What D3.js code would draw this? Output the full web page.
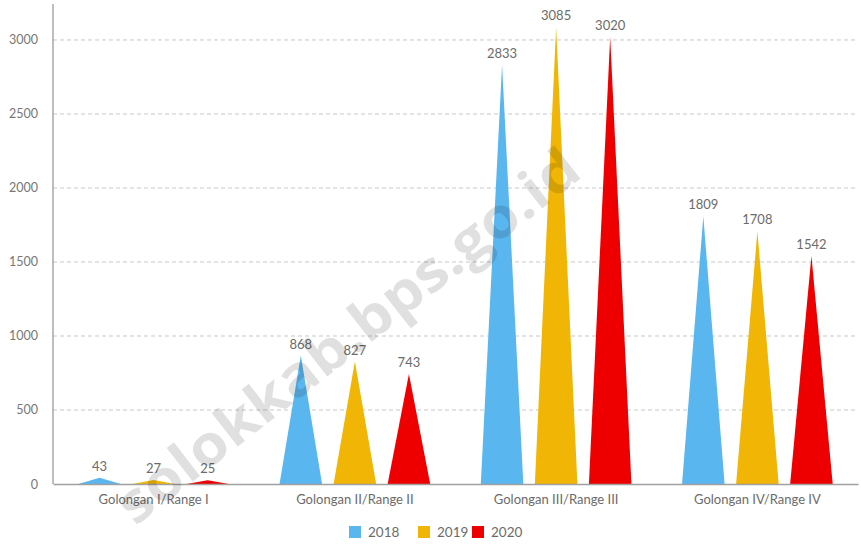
<!DOCTYPE html>
<html>
<head>
<meta charset="utf-8">
<script src="https://cdn.jsdelivr.net/npm/d3@7"></script>
<style>
  html, body { margin: 0; padding: 0; background: #fff; }
  svg { display: block; font-family: Lato, "Open Sans", sans-serif; }
</style>
</head>
<body>
<svg id="chart" width="861" height="544"></svg>
<script>
const categories = ["Golongan I/Range I", "Golongan II/Range II", "Golongan III/Range III", "Golongan IV/Range IV"];
const seriesNames = ["2018", "2019", "2020"];
const values2018 = [43, 868, 2833, 1809];
const values2019 = [27, 827, 3085, 1708];
const values2020 = [25, 743, 3020, 1542];
const yTicks = [0, 500, 1000, 1500, 2000, 2500, 3000];
const colors = ["#5ab6ef", "#f0b505", "#ee0000"];
const watermark = "solokkab.bps.go.id";

const seriesValues = [values2018, values2019, values2020];

const svg = d3.select("#chart");
const mLeft = 53, mRight = 858, mTop = 4, mBottom = 484;

const x0 = d3.scaleBand().domain(categories).range([mLeft, mRight]).padding(0);
const x1 = d3.scaleBand().domain(seriesNames).range([0, x0.bandwidth()])
  .paddingInner(0.213).paddingOuter(0.468);
const y = d3.scaleLinear().domain([0, 3243]).range([mBottom, mTop]);
const color = d3.scaleOrdinal().domain(seriesNames).range(colors);

// gridlines
svg.append("g")
  .selectAll("line")
  .data(yTicks.filter(d => d > 0))
  .join("line")
  .attr("x1", mLeft).attr("x2", mRight)
  .attr("y1", d => y(d)).attr("y2", d => y(d))
  .attr("stroke", "#c8c8c8")
  .attr("stroke-width", 1)
  .attr("stroke-dasharray", "4,3");

// y axis labels
const yAxis = d3.axisLeft(y).tickValues(yTicks).tickSize(0).tickPadding(15).tickFormat(d3.format("d"));
const gy = svg.append("g").attr("transform", `translate(${mLeft},0)`).call(yAxis);
gy.select(".domain").remove();
gy.selectAll("text").attr("fill", "#777").attr("font-size", "12.5px").attr("font-family", "Lato, sans-serif");

// triangles
const data = [];
categories.forEach((c, i) => {
  seriesNames.forEach((s, j) => {
    data.push({ cat: c, series: s, value: seriesValues[j][i] });
  });
});

const g = svg.append("g");
g.selectAll("path.tri")
  .data(data)
  .join("path")
  .attr("class", "tri")
  .attr("fill", d => color(d.series))
  .attr("d", d => {
    const x = x0(d.cat) + x1(d.series);
    const w = x1.bandwidth();
    return `M${x},${y(0)}L${x + w / 2},${y(d.value)}L${x + w},${y(0)}Z`;
  });

g.selectAll("text.val")
  .data(data)
  .join("text")
  .attr("class", "val")
  .attr("x", d => x0(d.cat) + x1(d.series) + x1.bandwidth() / 2)
  .attr("y", d => y(d.value) - 7)
  .attr("text-anchor", "middle")
  .attr("fill", "#6b6b6b")
  .attr("font-size", "13px")
  .text(d => d.value);

// axes lines
svg.append("line").attr("x1", mLeft).attr("x2", mLeft).attr("y1", mTop).attr("y2", mBottom)
  .attr("stroke", "#a8a8a8").attr("stroke-width", 1.5);
const xAxis = d3.axisBottom(x0).tickSize(0).tickPadding(11);
const gx = svg.append("g").attr("transform", `translate(0,${mBottom})`).call(xAxis);
gx.select(".domain").attr("stroke", "#a0a0a0").attr("stroke-width", 1.5);
gx.selectAll("text").attr("fill", "#6b6b6b").attr("font-size", "13px").attr("font-family", "Lato, sans-serif");

// legend
const legendX = [349, 418, 472];
const lg = svg.append("g");
seriesNames.forEach((s, i) => {
  lg.append("rect").attr("x", legendX[i]).attr("y", 526).attr("width", 12).attr("height", 12)
    .attr("fill", color(s));
  lg.append("text").attr("x", legendX[i] + 19).attr("y", 537)
    .attr("fill", "#6b6b6b").attr("font-size", "13.5px").text(s);
});

// watermark
svg.append("text")
  .attr("transform", "translate(346,334) rotate(-38)")
  .attr("text-anchor", "middle")
  .attr("dominant-baseline", "central")
  .attr("font-family", "'Open Sans', sans-serif")
  .attr("font-weight", "bold")
  .attr("font-size", "56px")
  .attr("textLength", 570)
  .attr("lengthAdjust", "spacingAndGlyphs")
  .attr("fill", "#000")
  .attr("fill-opacity", 0.12)
  .text(watermark);
</script>
</body>
</html>
